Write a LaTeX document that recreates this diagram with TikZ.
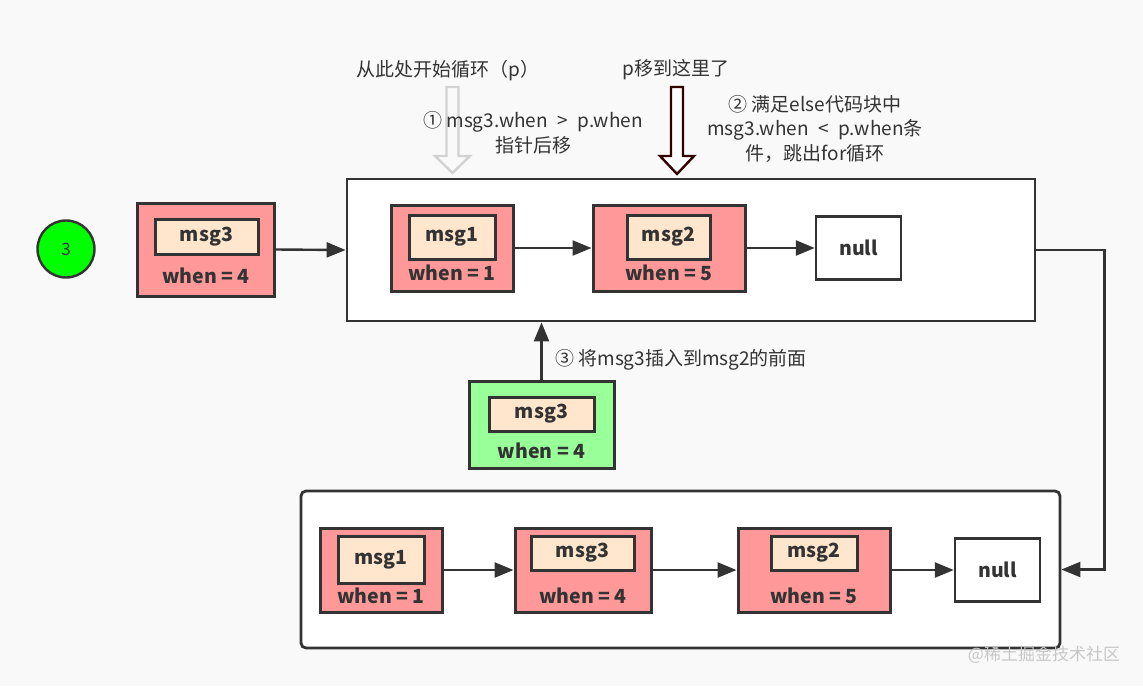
\documentclass[tikz,border=0pt]{standalone}
\usepackage{fontspec}
\setmainfont{Noto Sans CJK SC}
\usetikzlibrary{arrows.meta}
\definecolor{bg}{HTML}{F9F9F9}
\definecolor{ln}{HTML}{333333}
\definecolor{pinkf}{HTML}{FF9999}
\definecolor{innerf}{HTML}{FFE6CC}
\definecolor{greenf}{HTML}{99FF99}
\definecolor{circf}{HTML}{00FF00}
\definecolor{maroonln}{HTML}{330000}
\definecolor{lgray}{HTML}{D2D2D2}
\begin{document}
\begin{tikzpicture}[x=1pt,y=-1pt,
  outerbox/.style={draw=ln, line width=3pt, fill=pinkf, rectangle, inner sep=0pt},
  greenbox/.style={outerbox, fill=greenf},
  innerbox/.style={draw=ln, line width=3pt, fill=innerf, rectangle, inner sep=0pt, text=ln, font=\fontsize{19.5}{21}\selectfont\bfseries},
  whenlbl/.style={inner sep=0pt, text=ln, font=\fontsize{19.5}{21}\selectfont\bfseries},
  nullbox/.style={draw=ln, line width=2.4pt, fill=white, rectangle, inner sep=0pt, text=ln, font=\fontsize{19.5}{21}\selectfont\bfseries, minimum width=85pt, minimum height=63pt},
  container/.style={draw=ln, line width=2.8pt, fill=white, rectangle, inner sep=0pt},
  conn/.style={draw=ln, line width=2.4pt, -{Triangle[length=19pt,width=15pt]}},
  note/.style={inner sep=0pt, text=ln, font=\fontsize{19}{24.5}\selectfont, align=center}
]
\useasboundingbox[fill=bg] (0,0) rectangle (1143,686);

% circle
\node[circle, draw=ln, line width=2.4pt, fill=circf, minimum size=57pt, inner sep=0pt, text=ln, font=\fontsize{17}{19}\selectfont] (c3) at (66,249) {3};

% standalone msg3
\node[outerbox, minimum width=137pt, minimum height=93pt] (m3) at (205.5,249.5) {};
\node[innerbox, minimum width=103pt, minimum height=35pt] (m3i) at (206.5,236.5) {msg3};
\node[whenlbl] (m3w) at (206,276) {when = 4};

% top container
\node[container, minimum width=688pt, minimum height=142pt] (top) at (691,250) {};
\node[outerbox, minimum width=122pt, minimum height=86pt] (t1) at (452,248) {};
\node[innerbox, minimum width=86pt, minimum height=44pt] (t1i) at (452,237) {msg1};
\node[whenlbl] (t1w) at (452,273) {when = 1};
\node[outerbox, minimum width=152pt, minimum height=86pt] (t2) at (669,248) {};
\node[innerbox, minimum width=83pt, minimum height=44pt] (t2i) at (668.5,237) {msg2};
\node[whenlbl] (t2w) at (669,273) {when = 5};
\node[nullbox] (tn) at (858.5,248) {null};

\draw[conn] (m3.east) -- (top.west);
\draw[conn] (t1.east) -- (t2.west);
\draw[conn] (t2.east) -- (tn.west);

% green msg3
\node[greenbox, minimum width=145pt, minimum height=87pt] (g3) at (541.5,424.5) {};
\node[innerbox, minimum width=105pt, minimum height=34pt] (g3i) at (541.5,414) {msg3};
\node[whenlbl] (g3w) at (541.5,451) {when = 4};
\draw[conn] (g3.north) -- (g3.north |- top.south);
\node[note, anchor=west] (n3) at (555,360) {③ 将msg3插入到msg2的前面};

% bottom container
\node[container, rounded corners=5pt, minimum width=759pt, minimum height=157pt] (bot) at (680.5,569.5) {};
\node[outerbox, minimum width=122pt, minimum height=84pt] (b1) at (381,570) {};
\node[innerbox, minimum width=86pt, minimum height=47pt] (b1i) at (381,559.5) {msg1};
\node[whenlbl] (b1w) at (381,596) {when = 1};
\node[outerbox, minimum width=136pt, minimum height=84pt] (b3) at (583,570) {};
\node[innerbox, minimum width=103pt, minimum height=34pt] (b3i) at (582.5,553) {msg3};
\node[whenlbl] (b3w) at (583,596) {when = 4};
\node[outerbox, minimum width=152pt, minimum height=84pt] (b2) at (814,570) {};
\node[innerbox, minimum width=86pt, minimum height=34pt] (b2i) at (814,553) {msg2};
\node[whenlbl] (b2w) at (814,596) {when = 5};
\node[nullbox] (bn) at (997.5,570) {null};

\draw[conn] (b1.east) -- (b3.west);
\draw[conn] (b3.east) -- (b2.west);
\draw[conn] (b2.east) -- (bn.west);

% right connector
\draw[conn] (top.east) -- ++(68,0) |- (bot.east);

% top labels and hollow arrows
\node[note] (l1) at (448,71) {从此处开始循环（p）};
\node[note] (l2) at (676,70) {p移到这里了};
\draw[lgray, line width=2.4pt, fill=bg, line join=miter]
  (446.5,87) -- (458.5,87) -- (458.5,156) -- (470,156) -- (452.5,173) -- (435,156) -- (446.5,156) -- cycle;
\draw[maroonln, line width=2.4pt, fill=white, line join=miter]
  (671,87) -- (683,87) -- (683,156) -- (694,156) -- (677,174) -- (660,156) -- (671,156) -- cycle;
\node[note] (l3) at (533,133) {① msg3.when\enspace>\enspace p.when\\指针后移};
\node[note] (l4) at (815,128.5) {② 满足else代码块中\\msg3.when\enspace<\enspace p.when条\\件，跳出for循环};

% watermark
\node[inner sep=0pt, text=black!22, font=\fontsize{17}{19}\selectfont] (wm) at (1044,655) {@稀土掘金技术社区};
\end{tikzpicture}
\end{document}
